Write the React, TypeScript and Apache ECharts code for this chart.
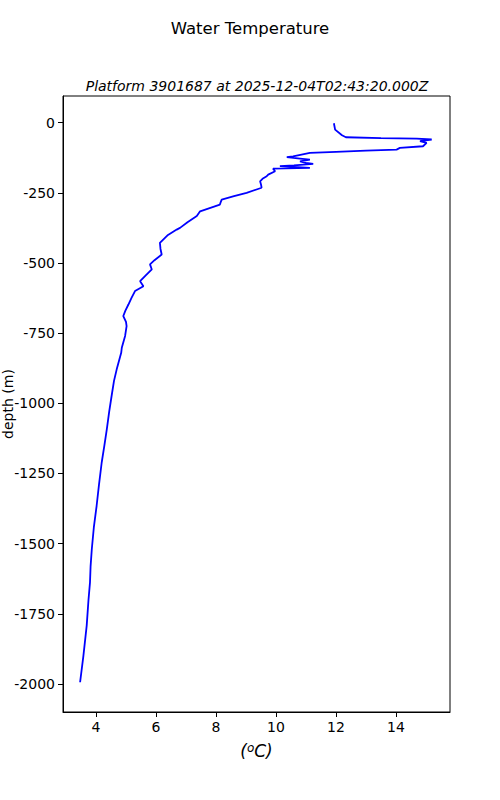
import React, { useEffect, useRef } from "react";
import * as echarts from "echarts";

const depth = [
  -2, -25, -45, -52, -55, -57, -60, -66, -72, -84, -90, -96, -100, -104, -108,
  -120, -123, -128, -132, -138, -143, -147, -152, -155, -158, -161, -164, -173,
  -185, -191, -200, -209, -220, -232, -250, -262, -274, -285, -292, -316, -333,
  -355, -375, -381, -400, -428, -450, -470, -490, -505, -523, -545, -565, -583,
  -600, -625, -648, -670, -689, -710, -725, -760, -802, -820, -879, -920, -974,
  -1030, -1093, -1150, -1211, -1290, -1366, -1440, -1520, -1580, -1638, -1700,
  -1792, -1900, -1994,
];
const temperature = [
  11.93, 11.97, 12.2, 12.33, 13.5, 14.69, 15.19, 14.8, 15.02, 14.9, 14.13,
  14.02, 13.0, 12.0, 11.13, 10.57, 10.36, 10.8, 11.13, 10.8, 11.0, 11.24, 10.6,
  10.13, 10.6, 11.13, 9.9, 9.97, 9.74, 9.69, 9.55, 9.47, 9.5, 9.52, 9.02, 8.6,
  8.19, 8.15, 8.13, 7.47, 7.36, 7.05, 6.8, 6.69, 6.4, 6.13, 6.15, 6.19, 5.95,
  5.8, 5.86, 5.65, 5.47, 5.58, 5.3, 5.18, 5.08, 4.98, 4.91, 5.0, 5.02, 4.97,
  4.86, 4.84, 4.69, 4.6, 4.52, 4.44, 4.36, 4.28, 4.19, 4.1, 4.02, 3.93, 3.86,
  3.82, 3.8, 3.75, 3.69, 3.58, 3.47,
];
const xTicks = [4, 6, 8, 10, 12, 14];
const yTicks = [0, -250, -500, -750, -1000, -1250, -1500, -1750, -2000];

const FONT = "DejaVu Sans";

export default function App() {
  const ref = useRef<HTMLDivElement>(null);
  useEffect(() => {
    if (!ref.current) return;
    const chart = echarts.init(ref.current, undefined, { renderer: "svg" });
    const data = depth.map((d, i) => [temperature[i], d]);
    chart.setOption({
      animation: false,
      backgroundColor: "#fff",
      title: [
        {
          text: "Water Temperature",
          left: "center",
          top: 15,
          textStyle: { fontFamily: FONT, fontSize: 16.5, fontWeight: "normal", color: "#000" },
        },
        {
          text: "Platform 3901687 at 2025-12-04T02:43:20.000Z",
          left: 252,
          textAlign: "center",
          top: 74,
          textStyle: { fontFamily: FONT, fontSize: 14, fontStyle: "italic", fontWeight: "normal", color: "#000" },
        },
      ],
      grid: {
        left: 63,
        right: 50,
        top: 96,
        bottom: 88,
        containLabel: false,
        outerBoundsMode: "none",
        show: true,
        borderColor: "#000",
        borderWidth: 1,
        backgroundColor: "transparent",
      },
      xAxis: {
        type: "value",
        min: 2.9,
        max: 15.8,
        name: "{p|(}{s|o}{p|C)}",
        nameLocation: "middle",
        nameGap: 30,
        nameMoveOverlap: false,
        nameTextStyle: {
          rich: {
            p: { fontFamily: FONT, fontSize: 17, fontStyle: "italic", color: "#000" },
            s: { fontFamily: FONT, fontSize: 12, fontStyle: "italic", color: "#000", verticalAlign: "top", padding: [0, 0, 6, 0] },
          },
        },
        axisLine: { show: true, onZero: false, lineStyle: { color: "#000", width: 1 } },
        axisTick: { show: true, length: 5, customValues: xTicks, lineStyle: { color: "#000" } },
        axisLabel: {
          customValues: xTicks,
          margin: 8,
          fontFamily: FONT,
          fontSize: 14,
          color: "#000",
          formatter: (v: number) => String(v),
        },
        splitLine: { show: false },
      },
      yAxis: {
        type: "value",
        min: -2100,
        max: 95,
        name: "depth (m)",
        nameLocation: "middle",
        nameGap: 48,
        nameRotate: 90,
        nameMoveOverlap: false,
        nameTextStyle: { fontFamily: FONT, fontSize: 14, color: "#000" },
        axisLine: { show: true, onZero: false, lineStyle: { color: "#000", width: 1 } },
        axisTick: { show: true, length: 5, customValues: yTicks, lineStyle: { color: "#000" } },
        axisLabel: {
          customValues: yTicks,
          margin: 8,
          fontFamily: FONT,
          fontSize: 14,
          color: "#000",
          formatter: (v: number) => String(v),
        },
        splitLine: { show: false },
      },
      series: [
        {
          type: "line",
          data,
          showSymbol: false,
          symbol: "none",
          lineStyle: { color: "#0000ff", width: 1.8 },
          z: 3,
        },
      ],
    });
    return () => chart.dispose();
  }, []);
  return (
    <div
      ref={ref}
      style={{ position: "absolute", left: 0, top: 0, width: 500, height: 800 }}
    />
  );
}
